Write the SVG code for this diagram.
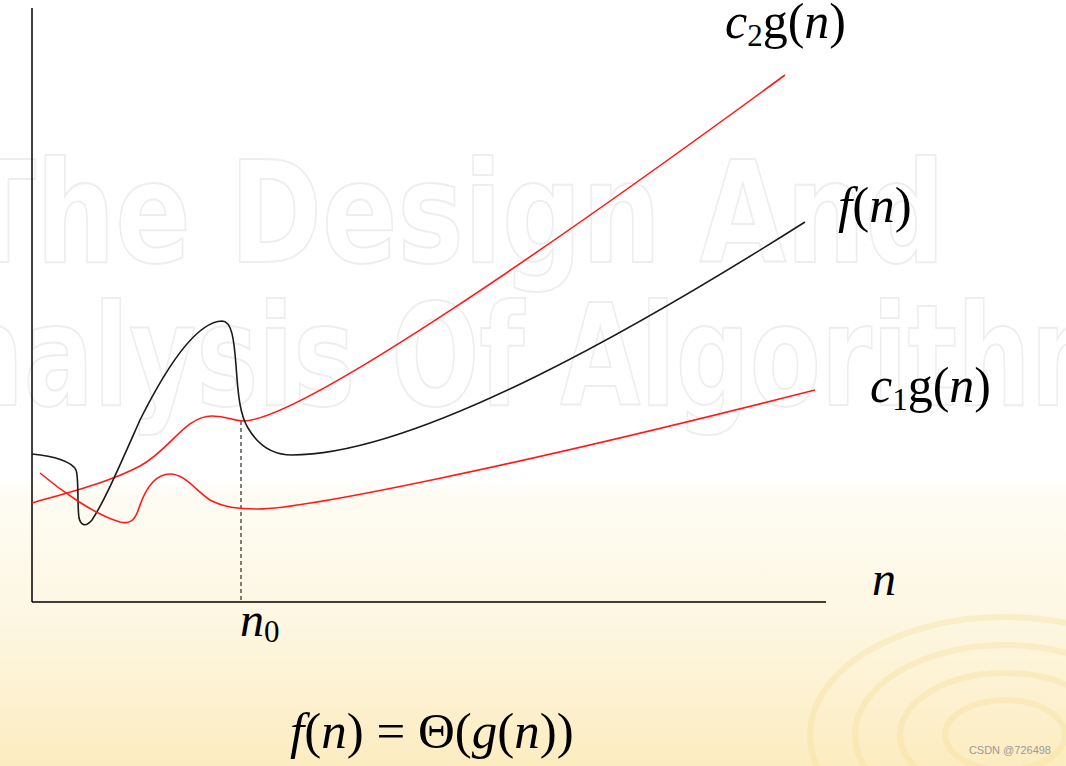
<svg xmlns="http://www.w3.org/2000/svg" width="1066" height="766" viewBox="0 0 1066 766">
<defs>
<linearGradient id="bg" x1="0" y1="0" x2="0" y2="1">
<stop offset="0" stop-color="#ffffff"/>
<stop offset="0.625" stop-color="#ffffff"/>
<stop offset="0.645" stop-color="#fefcf3"/>
<stop offset="0.8" stop-color="#fdf7e3"/>
<stop offset="1" stop-color="#fcecc0"/>
</linearGradient>
</defs>
<style>
.ax{stroke:#000;stroke-width:1.5;fill:none}
.red{stroke:#ff1a1a;stroke-width:1.6;fill:none}
.blk{stroke:#1a1a1a;stroke-width:1.6;fill:none}
.lbl{font-family:"Liberation Serif","Times New Roman",serif;fill:#000}
.it{font-style:italic}
.wm{font-family:"DejaVu Sans",sans-serif;font-weight:bold;font-size:140px;fill:none;stroke:#eeeeee;stroke-width:2}
.rip{fill:none;stroke:#f6d98f;stroke-opacity:0.3;stroke-width:6}
</style>
<rect width="1066" height="766" fill="url(#bg)"/>
<g id="ripples">
<ellipse class="rip" cx="1005" cy="735" rx="60" ry="35"/>
<ellipse class="rip" cx="1005" cy="735" rx="105" ry="62"/>
<ellipse class="rip" cx="1005" cy="735" rx="150" ry="90"/>
<ellipse class="rip" cx="1005" cy="735" rx="195" ry="118"/>
</g>
<g id="watermark">
<text class="wm" x="-40" y="262" textLength="985" lengthAdjust="spacingAndGlyphs">The Design And</text>
<text class="wm" x="-130" y="405" textLength="1330" lengthAdjust="spacingAndGlyphs">Analysis Of Algorithms</text>
</g>
<g id="axes">
<line class="ax" x1="32" y1="8" x2="32" y2="602"/>
<line class="ax" x1="32" y1="602" x2="826" y2="602"/>
</g>
<g id="connectors">
<line x1="241" y1="421" x2="241" y2="602" stroke="#000" stroke-width="1" stroke-dasharray="4,3"/>
<path id="c2g" class="red" d="M32,503 C70,492 110,482 140,466 C170,450 185,416 212,416 C228,416 232,421 243,421 C300,421 560,240 785,75"/>
<path id="f" class="blk" d="M32,454 C55,456 72,462 76,470 C79,478 77,505 79,518 C81,526 86,527 92,520 C105,500 120,465 140,420 C165,370 195,322 222,321 C232,321 234,340 236,365 C238,395 240,415 248,428 C258,445 272,455 292,455 C420,455 650,320 805,222"/>
<path id="c1g" class="red" d="M40,473 C60,490 95,515 120,522 C132,525 136,518 140,505 C148,483 158,474 170,474 C185,474 195,490 210,500 C225,508 240,509 258,509 C300,509 500,470 815,390"/>
</g>
<g id="labels">
<text class="lbl" x="725" y="38" font-size="50"><tspan class="it">c</tspan><tspan font-size="31" dy="8">2</tspan><tspan dy="-8">g(</tspan><tspan class="it">n</tspan>)</text>
<text class="lbl" x="838" y="222" font-size="51"><tspan class="it">f</tspan>(<tspan class="it">n</tspan>)</text>
<text class="lbl" x="870" y="402" font-size="50"><tspan class="it">c</tspan><tspan font-size="31" dy="8">1</tspan><tspan dy="-8">g(</tspan><tspan class="it">n</tspan>)</text>
<text class="lbl it" x="872" y="595" font-size="48">n</text>
<text class="lbl" x="240" y="636" font-size="48"><tspan class="it">n</tspan><tspan font-size="31" dy="6">0</tspan></text>
<text class="lbl" x="290" y="748" font-size="51"><tspan class="it">f</tspan>(<tspan class="it">n</tspan>) = Θ(<tspan class="it">g</tspan>(<tspan class="it">n</tspan>))</text>
<text x="1051" y="754" text-anchor="end" font-family="Liberation Sans,Arial,sans-serif" font-size="11" fill="#9a9a9a">CSDN @726498</text>
</g>
</svg>
